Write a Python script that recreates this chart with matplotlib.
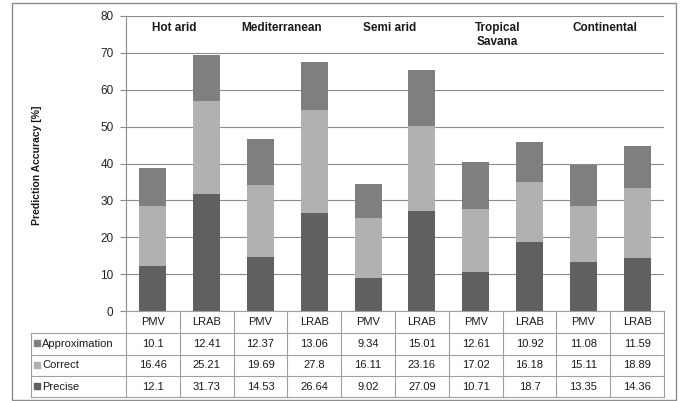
import numpy as np
import matplotlib
matplotlib.use("Agg")
import matplotlib.pyplot as plt
from matplotlib import transforms
from matplotlib.patches import Rectangle

plt.rcParams['font.family'] = ['Liberation Sans', 'DejaVu Sans']

# ---------------- data ----------------
climates = ['Hot arid', 'Mediterranean', 'Semi arid', 'Tropical\nSavana', 'Continental']
methods = ['PMV', 'LRAB'] * 5
series_names = ['Approximation', 'Correct', 'Precise']
approximation = [10.1, 12.41, 12.37, 13.06, 9.34, 15.01, 12.61, 10.92, 11.08, 11.59]
correct = [16.46, 25.21, 19.69, 27.8, 16.11, 23.16, 17.02, 16.18, 15.11, 18.89]
precise = [12.1, 31.73, 14.53, 26.64, 9.02, 27.09, 10.71, 18.7, 13.35, 14.36]
yticks = [0, 10, 20, 30, 40, 50, 60, 70, 80]

# ---------------- style ----------------
c_approx = '#7f7f7f'
c_correct = '#b1b1b1'
c_precise = '#606060'
grid_c = '#8c8c8c'
line_c = '#a0a0a0'

W, H = 684, 401
fig = plt.figure(figsize=(W / 100, H / 100), dpi=100)
ax_l, ax_r, ax_t, ax_b = 126, 664, 16, 311
ax = fig.add_axes([ax_l / W, (H - ax_b) / H, (ax_r - ax_l) / W, (ax_b - ax_t) / H])

x = np.arange(len(methods))
p = np.array(precise)
c = np.array(correct)
a = np.array(approximation)
ax.bar(x, p, width=0.5, color=c_precise, zorder=3)
ax.bar(x, c, width=0.5, bottom=p, color=c_correct, zorder=3)
ax.bar(x, a, width=0.5, bottom=p + c, color=c_approx, zorder=3)

ax.set_xlim(-0.5, len(methods) - 0.5)
ax.set_ylim(0, 80)
ax.set_yticks(yticks)
ax.set_xticks([])
ax.yaxis.grid(True, color=grid_c, lw=0.8, zorder=0)
for s in ['top', 'right', 'bottom']:
    ax.spines[s].set_visible(False)
ax.spines['left'].set_color(grid_c)
ax.spines['left'].set_linewidth(0.8)
ax.tick_params(axis='y', length=4, width=0.8, color=grid_c, pad=5, labelsize=8.5, labelcolor='#222222')

# climate labels
for i, name in enumerate(climates):
    ax.text(2 * i + 0.5 - 0.1, 78.3, name, ha='center', va='top', fontsize=8.5,
            fontweight='bold', color='#1a1a1a', linespacing=1.15, zorder=4)

# y label
fig.text(37 / W, 1 - 165 / H, 'Prediction Accuracy [%]', rotation=90, ha='center', va='center',
         fontsize=7.5, fontweight='bold', color='#1a1a1a')

# ---------------- data table ----------------
blend = transforms.blended_transform_factory(ax.transData, ax.transAxes)
ppx = (ax_r - ax_l) / len(methods)     # pixels per category
def px2x(px):
    return (px - ax_l) / ppx - 0.5
def py2y(py):
    return (ax_b - py) / (ax_b - ax_t)

row_edges_px = [311, 333, 355, 376, 397]
ry = [py2y(v) for v in row_edges_px]
x_left = px2x(31)
x0, x1 = -0.5, len(methods) - 0.5
kw = dict(transform=blend, clip_on=False, color=line_c, lw=0.8, zorder=5)

# horizontal lines
ax.plot([x0, x1], [ry[0], ry[0]], **kw)
for yy in ry[1:]:
    ax.plot([x_left, x1], [yy, yy], **kw)
# vertical lines
for k in range(len(methods) + 1):
    ax.plot([k - 0.5, k - 0.5], [ry[0], ry[-1]], **kw)
ax.plot([x_left, x_left], [ry[1], ry[-1]], **kw)

# header
for k, m in enumerate(methods):
    ax.text(k, (ry[0] + ry[1]) / 2, m, transform=blend, ha='center', va='center',
            fontsize=8, color='#1a1a1a', clip_on=False)

rows = [approximation, correct, precise]
row_colors = [c_approx, c_correct, c_precise]
for r, (name, vals, col) in enumerate(zip(series_names, rows, row_colors)):
    yc = (ry[r + 1] + ry[r + 2]) / 2
    ax.plot([px2x(37)], [yc + 0.003], marker='s', ms=5, color=col, transform=blend,
            clip_on=False, zorder=6, lw=0)
    ax.text(px2x(42), yc, name, transform=blend, ha='left', va='center',
            fontsize=8, color='#1a1a1a', clip_on=False)
    for k, v in enumerate(vals):
        ax.text(k, yc, f'{v:g}', transform=blend, ha='center', va='center',
                fontsize=8, color='#1a1a1a', clip_on=False)

# outer frame
fig.patches.append(Rectangle((12 / W, 1 / H), 664 / W, 397 / H, transform=fig.transFigure,
                             fill=False, edgecolor='#8c8c8c', lw=1.0))

fig.savefig('out.png', dpi=100)
